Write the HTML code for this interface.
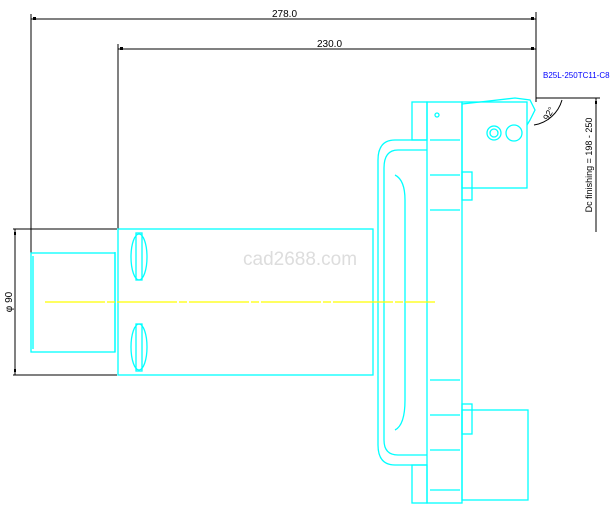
<!DOCTYPE html>
<html><head><style>body{margin:0;background:#fff}svg{display:block}</style></head><body>
<svg width="614" height="515" viewBox="0 0 614 515" xmlns="http://www.w3.org/2000/svg" font-family="Liberation Sans, sans-serif">
<g stroke="#000" stroke-width="1" fill="none">
<line x1="31" y1="19" x2="536" y2="19"/>
<line x1="31" y1="14" x2="31" y2="255"/>
<line x1="536" y1="12" x2="536" y2="102"/>
<line x1="118" y1="49" x2="536" y2="49"/>
<line x1="118" y1="44" x2="118" y2="230"/>
<line x1="13" y1="229" x2="117" y2="229"/>
<line x1="13" y1="375" x2="117" y2="375"/>
<line x1="15" y1="229" x2="15" y2="375"/>
<line x1="536" y1="98" x2="600" y2="98"/>
<line x1="596" y1="98" x2="596" y2="232"/>
<path d="M562 100 A35 35 0 0 1 534 125"/>
</g>
<g fill="#000"><rect x="33" y="17" width="3" height="3"/><rect x="531" y="17" width="3" height="3"/><rect x="120" y="47" width="3" height="3"/><rect x="531" y="47" width="3" height="3"/><rect x="14" y="232" width="2" height="3"/><rect x="14" y="369" width="2" height="3"/><rect x="595" y="101" width="2" height="3"/></g>
<g font-size="10" fill="#000">
<text x="272" y="17">278.0</text>
<text x="317" y="47">230.0</text>
<text transform="translate(12,302) rotate(-90)" text-anchor="middle">φ 90</text>
<text transform="translate(592,165) rotate(-90)" text-anchor="middle" font-size="9">Dc finishing = 198 - 250</text>
<text transform="translate(548,121) rotate(-60)" font-size="9">92°</text>
</g>
<text x="543" y="78" font-size="8" fill="#00f">B25L-250TC11-C8</text>
<text x="243" y="265" font-size="19" fill="#ddd">cad2688.com</text>
<g stroke="#0ff" stroke-width="1.3" fill="none">
<rect x="31" y="253" width="84" height="99"/>
<line x1="33" y1="256" x2="33" y2="349"/>
<rect x="118" y="229" width="255" height="146"/>
<line x1="115" y1="252" x2="115" y2="352"/>
<ellipse cx="139" cy="257" rx="8" ry="23"/><rect x="136" y="233" width="6" height="47"/>
<ellipse cx="139" cy="347" rx="8" ry="23"/><rect x="136" y="324" width="6" height="47"/>
<path d="M378 160 Q378 140 395 140 L427 140 M378 160 L378 445 Q378 465 395 465 L427 465"/>
<path d="M384 168 Q384 150 398 150 L427 150 M384 168 L384 440 Q384 455 398 455 L427 455"/>
<path d="M395 175 Q405 180 405 200 L405 400 Q405 425 395 430"/>
<rect x="412" y="102" width="15" height="38"/>
<rect x="412" y="465" width="15" height="38"/>
<rect x="427" y="102" width="35" height="401"/>
<line x1="430" y1="140" x2="460" y2="140"/><line x1="430" y1="175" x2="460" y2="175"/><line x1="430" y1="210" x2="460" y2="210"/>
<line x1="430" y1="380" x2="460" y2="380"/><line x1="430" y1="415" x2="460" y2="415"/><line x1="430" y1="450" x2="460" y2="450"/><line x1="430" y1="490" x2="460" y2="490"/>
<rect x="462" y="102" width="65" height="86"/>
<rect x="462" y="172" width="10" height="28"/>
<path d="M462 104 L480 102 L515 98 L530 100 L535 110 L530 120 L527 125"/>
<circle cx="494" cy="133" r="7"/><circle cx="494" cy="133" r="4"/><circle cx="514" cy="133" r="8"/>
<circle cx="437" cy="115" r="2"/>
<rect x="462" y="410" width="66" height="90"/>
<rect x="462" y="404" width="10" height="30"/>
</g>
<line x1="45" y1="302" x2="435" y2="302" stroke="#ff0" stroke-width="1.3" stroke-dasharray="60 2 8 2"/>
</svg>
</body></html>
